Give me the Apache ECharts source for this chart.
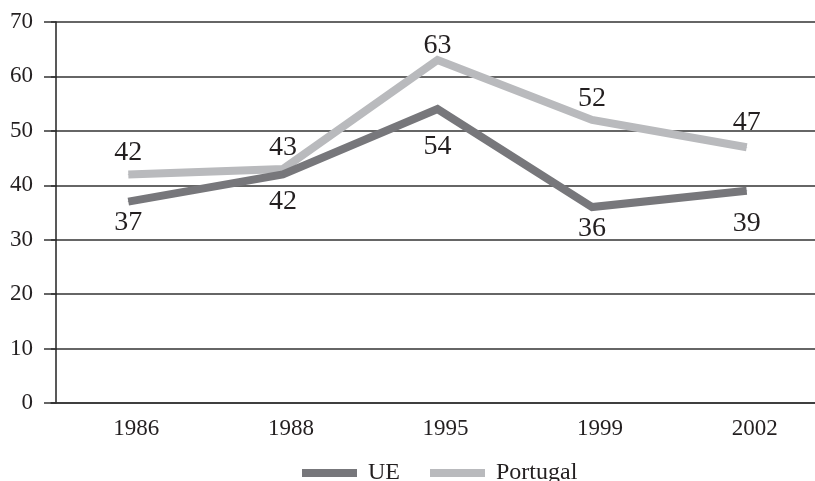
<!DOCTYPE html>
<html>
<head>
<meta charset="utf-8">
<script src="https://cdn.jsdelivr.net/npm/echarts@6/dist/echarts.min.js"></script>
<style>
  html, body { margin: 0; padding: 0; background: #fff; }
  #chart { width: 815px; height: 481px; }
</style>
</head>
<body>
<div id="chart"></div>
<script>
const years = ['1986', '1988', '1995', '1999', '2002'];
const ueValues = [37, 42, 54, 36, 39];
const portugalValues = [42, 43, 63, 52, 47];

// vertical nudges for value labels, to sit like in the original print
const ueLabelNudge = [0, 6, 16, 0, 11];
const portugalLabelNudge = [0, 0, 7, 0, -3];

const serif = '"Liberation Serif", "DejaVu Serif", serif';
const ink = '#231f20';

function withNudge(values, nudges) {
  return values.map((v, i) => ({ value: v, label: { offset: [0, nudges[i]] } }));
}

const chart = echarts.init(document.getElementById('chart'));

chart.setOption({
  backgroundColor: '#fff',
  animation: false,
  textStyle: { fontFamily: serif, color: ink },
  grid: { left: 51, width: 773, top: 22, bottom: 78, outerBoundsMode: 'none', containLabel: false },
  legend: {
    left: 297,
    top: 456,
    icon: 'rect',
    itemWidth: 55,
    itemHeight: 8,
    itemGap: 30,
    textStyle: { fontFamily: serif, fontSize: 24, color: ink, padding: [0, 0, 0, 6] },
    data: ['UE', 'Portugal']
  },
  xAxis: {
    type: 'category',
    data: years,
    boundaryGap: true,
    axisLine: { show: true, lineStyle: { color: '#333', width: 1.5 } },
    axisTick: { show: false },
    axisLabel: { margin: 14, fontFamily: serif, fontSize: 23, color: ink, padding: [0, 0, 0, 16] }
  },
  yAxis: {
    type: 'value',
    min: 0,
    max: 70,
    interval: 10,
    offset: -5,
    axisLine: { show: true, lineStyle: { color: '#222', width: 1.5 } },
    axisTick: { show: true, length: 12, lineStyle: { color: '#333', width: 1.5 } },
    axisLabel: { margin: 23, fontFamily: serif, fontSize: 23, color: ink },
    splitLine: { lineStyle: { color: '#333', width: 1.5 } }
  },
  series: [
    {
      name: 'UE',
      type: 'line',
      data: withNudge(ueValues, ueLabelNudge),
      symbol: 'circle',
      symbolSize: 1,
      showSymbol: true,
      itemStyle: { color: '#77777b' },
      lineStyle: { width: 8, color: '#77777b', cap: 'butt', join: 'miter' },
      label: {
        show: true,
        position: 'bottom',
        distance: 7,
        fontFamily: serif,
        fontSize: 28,
        color: ink
      },
      z: 3
    },
    {
      name: 'Portugal',
      type: 'line',
      data: withNudge(portugalValues, portugalLabelNudge),
      symbol: 'circle',
      symbolSize: 1,
      showSymbol: true,
      itemStyle: { color: '#b9babd' },
      lineStyle: { width: 8, color: '#b9babd', cap: 'butt', join: 'miter' },
      label: {
        show: true,
        position: 'top',
        distance: 7,
        fontFamily: serif,
        fontSize: 28,
        color: ink
      },
      z: 2
    }
  ]
});
</script>
</body>
</html>
